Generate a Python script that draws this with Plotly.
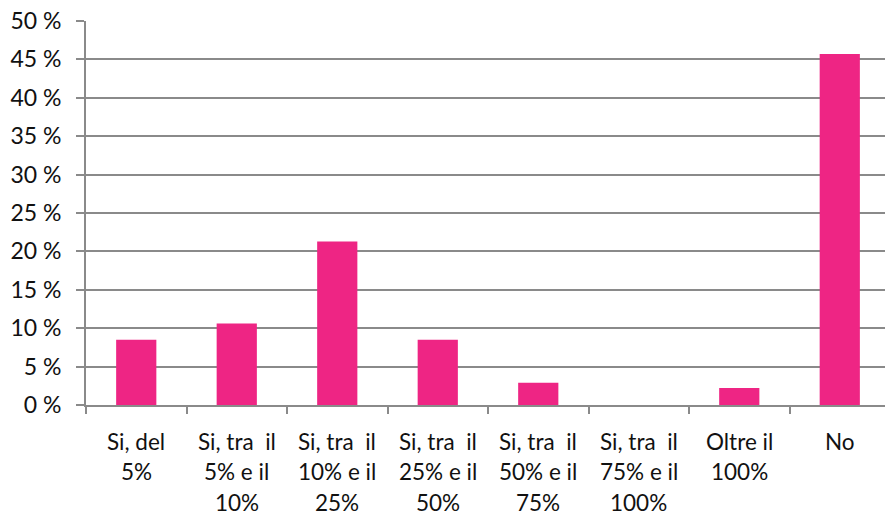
import plotly.graph_objects as go

categories = [
    ["Si, del", "5%"],
    ["Si, tra  il", "5% e il", "10%"],
    ["Si, tra  il", "10% e il", "25%"],
    ["Si, tra  il", "25% e il", "50%"],
    ["Si, tra  il", "50% e il", "75%"],
    ["Si, tra  il", "75% e il", "100%"],
    ["Oltre il", "100%"],
    ["No"],
]
values = [8.5, 10.6, 21.3, 8.5, 2.9, 0.0, 2.2, 45.7]
y_ticks = [0, 5, 10, 15, 20, 25, 30, 35, 40, 45, 50]

x_keys = [" ".join(c) for c in categories]

FONT = "Lato"
GRID = "#8A8A8A"

fig = go.Figure()
fig.add_trace(go.Bar(
    x=x_keys, y=values, width=0.4,
    marker=dict(color="#EE2584", line=dict(width=0)),
))

annotations = []
for key, lines in zip(x_keys, categories):
    for i, line in enumerate(lines):
        annotations.append(dict(
            x=key, xref="x", y=0, yref="paper", yanchor="middle",
            yshift=-36 - 30.5 * i, text=line, showarrow=False, borderpad=0,
            font=dict(family=FONT, size=22.5, color="#111111"),
        ))

fig.update_layout(
    width=885, height=515,
    margin=dict(l=86, r=0, t=21, b=110),
    paper_bgcolor="white", plot_bgcolor="white",
    showlegend=False,
    annotations=annotations,
)
fig.update_xaxes(
    range=[-0.5, 7.45], showticklabels=False,
    showline=True, linecolor=GRID, linewidth=2,
    ticks="outside", tickson="boundaries", ticklen=7, tickcolor=GRID, tickwidth=2,
    showgrid=False,
)
fig.update_yaxes(
    range=[0, 50], tickvals=y_ticks, ticktext=[f"{v} %" for v in y_ticks],
    showline=True, linecolor=GRID, linewidth=2,
    ticks="outside", ticklen=8, tickcolor=GRID, tickwidth=2,
    showgrid=True, gridcolor=GRID, gridwidth=2,
    tickfont=dict(family=FONT, size=23, color="#111111"),
    zeroline=False, ticklabelstandoff=10, automargin=False,
)

fig.write_html("out.html", config={"displayModeBar": False},
               post_script="document.body.style.margin='0';")
